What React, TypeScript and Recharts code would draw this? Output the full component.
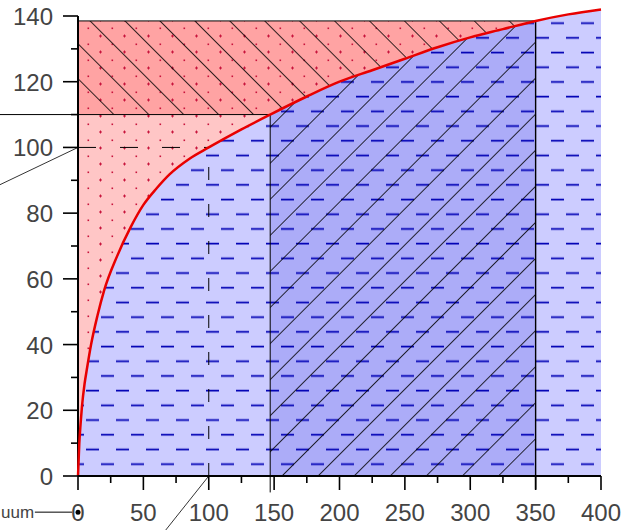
import React from 'react'
import {
  ComposedChart,
  Area,
  Line,
  XAxis,
  YAxis,
  ReferenceLine,
  ReferenceDot,
} from 'recharts'

// curve
const xs = [0, 1, 2, 3, 5, 7, 10, 15, 20, 30, 40, 50, 60, 70, 85, 100, 125, 147, 175, 200, 225, 250, 275, 300, 325, 350, 375, 400]
const curve = [0, 10, 16, 21, 28, 33, 40, 49, 56.5, 67, 75.5, 82.5, 87.5, 91.8, 96.5, 100, 105.5, 110, 115.5, 120, 123.5, 127, 130.5, 133.5, 136, 138.5, 140.5, 142]

const xTicks = [0, 25, 50, 75, 100, 125, 150, 175, 200, 225, 250, 275, 300, 325, 350, 375, 400]
const yTicks = [0, 10, 20, 30, 40, 50, 60, 70, 80, 90, 100, 110, 120, 130, 140]

// region bounds
const innerStart = 147
const innerEnd = 350
const bandLow = 110
const bandHigh = 138.5
const marker = { x: 100, y: 100 }

const data = xs.map((x, i) => ({
  x,
  y: curve[i],
  mid: x >= innerStart && x <= innerEnd ? curve[i] : null,
  pink: x <= innerStart ? bandLow : null,
  red: x <= innerEnd ? bandHigh : null,
}))

const font = { fontFamily: 'Liberation Sans, Arial, sans-serif', fontSize: 24, fill: '#444' }

function XTick(props: any) {
  const { x, y, payload } = props
  const v = payload.value
  const major = v % 50 === 0
  return (
    <g>
      <line x1={x} y1={y} x2={x} y2={y + (major ? 14 : 7)} stroke="#000" strokeWidth={1.6} />
      {major && (
        <text x={x} y={y + 45} textAnchor="middle" {...font}>
          {v}
        </text>
      )}
    </g>
  )
}

function YTick(props: any) {
  const { x, y, payload } = props
  const v = payload.value
  const major = v % 20 === 0
  return (
    <g>
      <line x1={x - (major ? 15 : 7)} y1={y} x2={x} y2={y} stroke="#000" strokeWidth={1.6} />
      {major && (
        <text x={x - 25} y={y + 9} textAnchor="end" {...font}>
          {v}
        </text>
      )}
    </g>
  )
}

function Patterns() {
  const dots = (bg: string) => (
    <>
      <rect width={24} height={16} fill={bg} />
      <path d="M3 4h3M4.5 2.5v3" stroke="#c8143c" strokeWidth={1} />
      <rect x={15.5} y={11.5} width={1.6} height={1.6} fill="#c8143c" />
    </>
  )
  const dashes = (bg: string) => (
    <>
      <rect width={30} height={29.4} fill={bg} />
      <path d="M0 8.5h9M26 8.5h4M11 23.2h13" stroke="#0000b4" strokeWidth={1.6} />
    </>
  )
  return (
    <defs>
      <pattern id="pinkDots" width={24} height={16} patternUnits="userSpaceOnUse">
        {dots('#ffc6c6')}
      </pattern>
      <pattern id="redDots" width={24} height={16} patternUnits="userSpaceOnUse">
        {dots('#ffa3a3')}
      </pattern>
      <pattern id="lightDash" width={30} height={29.4} patternUnits="userSpaceOnUse">
        {dashes('#ccccff')}
      </pattern>
      <pattern id="darkDash" width={30} height={29.4} patternUnits="userSpaceOnUse">
        {dashes('#acacf8')}
      </pattern>
      <pattern id="hatchDown" width={24.7} height={24.7} patternUnits="userSpaceOnUse" patternTransform="rotate(45)">
        <line x1={0} y1={0.5} x2={24.7} y2={0.5} stroke="#000" strokeWidth={0.8} />
      </pattern>
      <pattern id="hatchUp" width={25.5} height={25.5} patternUnits="userSpaceOnUse" patternTransform="rotate(-45)">
        <line x1={0} y1={0.5} x2={25.5} y2={0.5} stroke="#000" strokeWidth={0.8} />
      </pattern>
    </defs>
  )
}

export default function App() {
  return (
    <div style={{ position: 'absolute', left: 0, top: 0, background: '#fff' }}>
      <ComposedChart
        width={636}
        height={530}
        data={data}
        margin={{ top: 9.43, right: 35, bottom: 0, left: 0 }}
      >
        <Patterns />
        <XAxis
          type="number"
          dataKey="x"
          domain={[0, 400]}
          ticks={xTicks}
          interval={0}
          height={54}
          tickSize={0}
          tickMargin={0}
          tickLine={false}
          axisLine={{ stroke: '#000', strokeWidth: 2 }}
          tick={<XTick />}
        />
        <YAxis
          type="number"
          domain={[0, 142]}
          ticks={yTicks}
          interval={0}
          width={78}
          tickSize={0}
          tickMargin={0}
          tickLine={false}
          axisLine={false}
          tick={<YTick />}
        />

        <Area type="linear" dataKey="pink" stroke="none" fill="url(#pinkDots)" fillOpacity={1} isAnimationActive={false} />
        <Area type="linear" dataKey="red" baseValue={bandLow} stroke="none" fill="url(#redDots)" fillOpacity={1} isAnimationActive={false} />
        <Area type="linear" dataKey="red" baseValue={bandLow} stroke="none" fill="url(#hatchDown)" fillOpacity={1} isAnimationActive={false} />
        <Area type="monotone" dataKey="y" stroke="none" fill="url(#lightDash)" fillOpacity={1} isAnimationActive={false} />
        <Area type="monotone" dataKey="mid" stroke="none" fill="url(#darkDash)" fillOpacity={1} isAnimationActive={false} />
        <Area type="monotone" dataKey="mid" stroke="none" fill="url(#hatchUp)" fillOpacity={1} isAnimationActive={false} />

        <ReferenceLine segment={[{ x: 0, y: 0 }, { x: 0, y: 140 }]} stroke="#000" strokeWidth={2} ifOverflow="visible" />
        <ReferenceLine segment={[{ x: -60, y: bandLow }, { x: innerStart, y: bandLow }]} stroke="#000" strokeWidth={1} ifOverflow="visible" />
        <ReferenceLine segment={[{ x: 0, y: bandHigh }, { x: innerEnd, y: bandHigh }]} stroke="#000" strokeWidth={1} ifOverflow="visible" />
        <ReferenceLine segment={[{ x: innerStart, y: -5 }, { x: innerStart, y: bandLow }]} stroke="#000" strokeWidth={1} ifOverflow="visible" />
        <ReferenceLine segment={[{ x: innerEnd, y: -4 }, { x: innerEnd, y: bandHigh }]} stroke="#000" strokeWidth={1.4} ifOverflow="visible" />
        <ReferenceLine segment={[{ x: 0, y: marker.y }, { x: marker.x, y: marker.y }]} stroke="#000" strokeWidth={1} strokeDasharray="18 24" ifOverflow="visible" />
        <ReferenceLine segment={[{ x: marker.x, y: 0 }, { x: marker.x, y: marker.y }]} stroke="#000" strokeWidth={1} strokeDasharray="13 24" ifOverflow="visible" />
        <ReferenceLine segment={[{ x: -60, y: 88.6 }, { x: 0, y: 100 }]} stroke="#000" strokeWidth={0.8} ifOverflow="visible" />
        <ReferenceLine segment={[{ x: 67, y: -16.5 }, { x: marker.x, y: 0 }]} stroke="#000" strokeWidth={0.8} ifOverflow="visible" />
        <ReferenceLine segment={[{ x: -33, y: -11 }, { x: -4.5, y: -11 }]} stroke="#000" strokeWidth={1} ifOverflow="visible" />

        <Line type="monotone" dataKey="y" stroke="#e80000" strokeWidth={2.5} dot={false} isAnimationActive={false} />

        <ReferenceDot x={0} y={-11} r={2.5} fill="#000" stroke="none" ifOverflow="visible" />
        <ReferenceDot
          x={-59.6}
          y={-11}
          r={0}
          ifOverflow="visible"
          shape={(p: any) => (
            <text x={p.cx + 1} y={p.cy + 6} textAnchor="start" fontFamily="Liberation Sans, Arial, sans-serif" fontSize={17} fill="#444">
              uum
            </text>
          )}
        />
      </ComposedChart>
    </div>
  )
}
